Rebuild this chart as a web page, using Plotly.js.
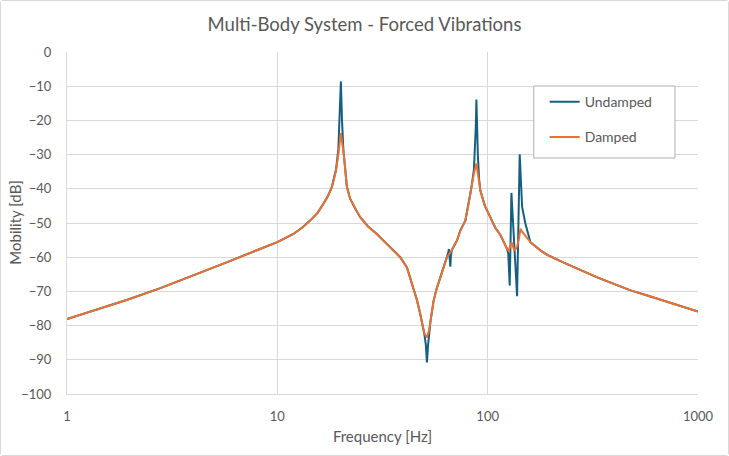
<!DOCTYPE html>
<html>
<head>
<meta charset="utf-8">
<script src="https://cdn.plot.ly/plotly-3.0.1.min.js"></script>
<style>
  body { margin: 0; background: #fff; }
  #chart { width: 727px; height: 454px; border: 1px solid #d9d9d9; border-radius: 3px; }
</style>
</head>
<body>
<div id="chart"></div>
<script>
// values (frequency in Hz, mobility in dB)
const freqDamped = [1, 1.33, 1.92, 2.76, 3.98, 5.74, 8.27, 10, 11.92, 13.1, 14.31, 15.5, 16.56, 17.4, 18.16, 19.03, 19.5, 20.05, 20.7, 21.41, 22.19, 23.44, 24.77, 27, 29.74, 32.5, 35.68, 38.4, 41.33, 44.4, 46.1, 47.8, 49.0, 50.0, 51.44, 52.6, 53.5, 55.34, 57.2, 59.55, 64.09, 66.45, 71.5, 74.1, 78.3, 81.2, 83.5, 86, 88.4, 90.3, 92.3, 97, 103, 109, 115, 119.2, 123.7, 126, 129.7, 134.1, 138, 141, 143.1, 146, 151.2, 159.7, 178.2, 191.8, 230.1, 276.3, 331.9, 398, 478.1, 574, 688.7, 827, 1000];
const magDamped = [-78.1, -75.7, -72.5, -69.1, -65.4, -61.5, -57.6, -55.6, -53.2, -51.4, -49.3, -47.1, -44.4, -42.1, -39.5, -34.6, -30, -23.7, -30, -39.5, -42.9, -45.8, -48.3, -51, -53.2, -55.6, -58.1, -60, -63, -68.8, -72.5, -76.6, -79.5, -82.3, -83.5, -81.5, -78.6, -72.7, -69.2, -65.9, -60, -58.6, -55.1, -52.2, -49.3, -44.4, -40, -35.5, -32.6, -36, -40.5, -45, -48.3, -51.5, -53.5, -55.5, -57.6, -58.1, -55.6, -58.1, -57, -54.5, -51.7, -52.6, -53.8, -55.6, -58, -59.3, -61.6, -63.8, -65.9, -67.8, -69.7, -71.2, -72.7, -74.3, -75.9];

const freqUndamped = [1, 1.33, 1.92, 2.76, 3.98, 5.74, 8.27, 10, 11.92, 13.1, 14.31, 15.5, 16.56, 17.4, 18.16, 19.03, 19.5, 19.8, 20.05, 20.3, 20.6, 21.41, 22.19, 23.44, 24.77, 27, 29.74, 32.5, 35.68, 38.4, 41.33, 44.4, 46.1, 47.8, 49.0, 50.0, 50.8, 51.44, 52.1, 52.6, 53.5, 55.34, 57.2, 59.55, 64.09, 65.0, 65.4, 66.0, 66.45, 66.9, 67.5, 71.5, 74.1, 78.3, 81.2, 83.5, 86, 86.9, 87.8, 88.4, 89.0, 89.8, 91, 92.3, 97, 103, 109, 115, 119.2, 123.7, 125.3, 127.3, 129.7, 138.0, 142.0, 143.5, 145.8, 151.2, 159.7, 178.2, 191.8, 230.1, 276.3, 331.9, 398, 478.1, 574, 688.7, 827, 1000];
const magUndamped = [-78.1, -75.7, -72.5, -69.1, -65.4, -61.5, -57.6, -55.6, -53.2, -51.4, -49.3, -47.1, -44.4, -42.1, -39.5, -34.2, -28.5, -20, -8.6, -20, -28.5, -39.3, -42.9, -45.8, -48.3, -51, -53.2, -55.6, -58.1, -60, -63, -68.8, -72.5, -76.6, -79.5, -82.5, -85.5, -90.8, -85.5, -82, -78.6, -72.7, -69.2, -65.9, -60, -58.6, -57.6, -60.5, -62.8, -59.5, -58, -55.1, -52.2, -49.3, -44.4, -40, -34.5, -30, -22, -13.9, -22, -30, -37, -40.5, -45, -48.3, -51.5, -53.5, -55.5, -57.6, -59, -68.3, -41.2, -71.4, -29.9, -38.5, -45.3, -50.2, -55.6, -58, -59.3, -61.6, -63.8, -65.9, -67.8, -69.7, -71.2, -72.7, -74.3, -75.9];

const tickVals = [1, 10, 100, 1000];
const tickText = ['1', '10', '100', '1000'];

const grey = '#595959';
const font = 'Lato, "Open Sans", sans-serif';

const traces = [
  {
    x: freqUndamped, y: magUndamped, name: 'Undamped', legendgroup: 'u',
    type: 'scatter', mode: 'lines',
    line: { color: '#156082', width: 2 }
  },
  {
    x: freqDamped, y: magDamped, name: 'Damped', legendgroup: 'd',
    type: 'scatter', mode: 'lines',
    line: { color: '#E97132', width: 2 }
  }
];

const layout = {
  width: 727, height: 454,
  margin: { l: 66, r: 30, t: 51, b: 61 },
  paper_bgcolor: '#fff', plot_bgcolor: '#fff',
  font: { family: font, color: grey, size: 13 },
  title: {
    text: 'Multi-Body System - Forced Vibrations',
    font: { size: 18.5, color: grey },
    x: 0.5, xref: 'container', y: 0.948, yref: 'container', yanchor: 'middle'
  },
  xaxis: {
    type: 'log', range: [0, 3],
    tickvals: tickVals, ticktext: tickText,
    showgrid: true, gridcolor: '#d9d9d9', gridwidth: 1,
    showline: true, linecolor: '#d9d9d9',
    ticks: '', ticklabelstandoff: 10,
    zeroline: false,
    title: { text: 'Frequency [Hz]', font: { size: 15, color: grey }, standoff: 8 }
  },
  yaxis: {
    range: [-100, 0], dtick: 10,
    showgrid: true, gridcolor: '#d9d9d9', gridwidth: 1,
    showline: true, linecolor: '#d9d9d9',
    ticks: '', ticklabelstandoff: 12,
    zeroline: false
  },
  // y title as annotation so it sits where the reference has it
  annotations: [{
    text: 'Mobility [dB]', xref: 'paper', yref: 'paper',
    x: -0.083, y: 0.5, textangle: -90, showarrow: false,
    xanchor: 'center', yanchor: 'middle',
    font: { size: 15, color: grey }
  }],
  // legend box drawn as a shape so it can be wider than the legend itself
  shapes: [{
    type: 'rect', xref: 'paper', yref: 'paper', layer: 'above',
    x0: 0.7397, x1: 0.9635, y0: 0.690, y1: 0.9006,
    fillcolor: '#fff', line: { color: '#b0b0b0', width: 1 }
  }],
  legend: {
    x: 0.757, y: 0.9, xanchor: 'left', yanchor: 'top',
    bgcolor: 'rgba(0,0,0,0)', borderwidth: 0,
    font: { size: 14, color: grey },
    tracegroupgap: 14
  },
  showlegend: true
};

Plotly.newPlot('chart', traces, layout, { staticPlot: true, displayModeBar: false });
</script>
</body>
</html>
